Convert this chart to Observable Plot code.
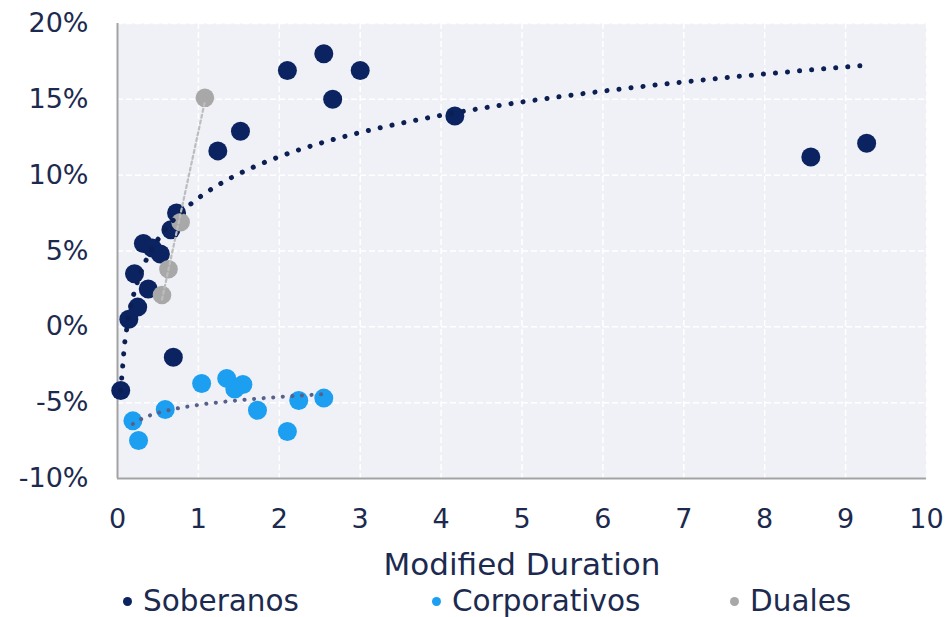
<!DOCTYPE html>
<html>
<head>
<meta charset="utf-8">
<script src="https://cdn.jsdelivr.net/npm/d3@7"></script>
<script src="https://cdn.jsdelivr.net/npm/@observablehq/plot@0.6"></script>
<style>
  body { margin: 0; background: #ffffff; font-family: "DejaVu Sans", sans-serif; color: #1c2a4f; }
  #legend { position: relative; width: 946px; height: 32px; font-size: 29.5px; }
  .item { position: absolute; top: 0; height: 32px; display: flex; align-items: center; gap: 11px; white-space: nowrap; }
  .sw { width: 9px; height: 9px; border-radius: 50%; }
</style>
</head>
<body>
<div id="chart"></div>
<div id="legend"></div>
<script>
// Modified duration (x) vs yield (y, %) by bond type
const soberanosX = [0.04, 0.14, 0.25, 0.21, 0.38, 0.32, 0.43, 0.53, 0.66, 0.73, 0.69, 1.24, 1.52, 2.10, 2.55, 2.66, 3.00, 4.17, 8.57, 9.26];
const soberanosY = [-4.2, 0.5, 1.3, 3.5, 2.5, 5.5, 5.2, 4.8, 6.4, 7.5, -2.0, 11.6, 12.9, 16.9, 18.0, 15.0, 16.9, 13.9, 11.2, 12.1];

const corporativosX = [0.19, 0.26, 0.59, 1.04, 1.35, 1.45, 1.55, 1.73, 2.10, 2.24, 2.55];
const corporativosY = [-6.2, -7.5, -5.45, -3.74, -3.4, -4.1, -3.8, -5.5, -6.9, -4.86, -4.7];

const dualesX = [0.55, 0.63, 0.78, 1.08];
const dualesY = [2.1, 3.8, 6.9, 15.1];

const seriesNames = ["Soberanos", "Corporativos", "Duales"];
const seriesColors = ["#0b2361", "#1c9ff0", "#a8a8a8"];

const xTicks = d3.range(0, 11);
const yTicks = [-10, -5, 0, 5, 10, 15, 20];

const toRows = (xs, ys, serie) => xs.map((x, i) => ({x, y: ys[i], serie}));
const soberanos = toRows(soberanosX, soberanosY, seriesNames[0]);
const corporativos = toRows(corporativosX, corporativosY, seriesNames[1]);
const duales = toRows(dualesX, dualesY, seriesNames[2]);

// Least-squares trend lines: logarithmic (y = a + b ln x) and linear
function fit(xs, ys, tx) {
  const t = xs.map(tx);
  const mt = d3.mean(t), my = d3.mean(ys);
  const b = d3.sum(t, (v, i) => (v - mt) * (ys[i] - my)) / d3.sum(t, v => (v - mt) ** 2);
  const a = my - b * mt;
  const [x0, x1] = d3.extent(xs);
  const n = 200;
  return d3.range(n + 1).map(i => {
    const x = x0 + (x1 - x0) * i / n;
    return {x, y: a + b * tx(x)};
  });
}
const trendSoberanos = fit(soberanosX, soberanosY, Math.log);
const trendCorporativos = fit(corporativosX, corporativosY, Math.log);
const trendDuales = fit(dualesX, dualesY, v => v);

const chart = Plot.plot({
  width: 946,
  height: 585,
  marginLeft: 117,
  marginRight: 20,
  marginTop: 23,
  marginBottom: 107,
  style: {fontFamily: "DejaVu Sans, sans-serif", fontSize: "27px", color: "#1c2a4f", background: "#ffffff"},
  x: {domain: [0, 10], ticks: xTicks},
  y: {domain: [-10, 20], ticks: yTicks},
  marks: [
    Plot.frame({fill: "#eff1f6", stroke: "none"}),
    Plot.gridX(xTicks.slice(1), {stroke: "#ffffff", strokeOpacity: 1, strokeWidth: 1.5, strokeDasharray: "6,3"}),
    Plot.gridY(yTicks.slice(1), {stroke: "#ffffff", strokeOpacity: 1, strokeWidth: 1.5, strokeDasharray: "6,3"}),
    Plot.ruleX([0], {stroke: "#a3a3a3", strokeWidth: 2}),
    Plot.ruleY([-10], {stroke: "#a3a3a3", strokeWidth: 2}),
    Plot.dot(soberanos, {x: "x", y: "y", r: 9.5, fill: seriesColors[0]}),
    Plot.dot(corporativos, {x: "x", y: "y", r: 9.5, fill: seriesColors[1]}),
    Plot.dot(duales, {x: "x", y: "y", r: 9.3, fill: seriesColors[2]}),
    Plot.line(trendSoberanos, {x: "x", y: "y", stroke: "#0b1f52", strokeWidth: 5, strokeDasharray: "0.1,12", strokeLinecap: "round"}),
    Plot.line(trendCorporativos, {x: "x", y: "y", stroke: "#56608a", strokeWidth: 4, strokeDasharray: "0.1,9.5", strokeLinecap: "round"}),
    Plot.line(trendDuales, {x: "x", y: "y", stroke: "#bdbdbd", strokeWidth: 2.2, strokeDasharray: "3,3"}),
    Plot.axisX({ticks: xTicks, tickSize: 0, tickPadding: 30, label: null, tickFormat: d => `${d}`}),
    Plot.axisY({ticks: yTicks, tickSize: 0, tickPadding: 29, label: null, tickFormat: d => `${d}%`}),
    Plot.text(["Modified Duration"], {frameAnchor: "bottom", dy: 87, lineAnchor: "middle", fontSize: 31, fill: "#1c2a4f", text: d => d})
  ]
});
document.getElementById("chart").append(chart);

// Legend below the chart
const legendPos = [123, 432, 730];
const legend = document.getElementById("legend");
seriesNames.forEach((name, i) => {
  const item = document.createElement("div");
  item.className = "item";
  item.style.left = legendPos[i] + "px";
  const sw = document.createElement("span");
  sw.className = "sw";
  sw.style.background = seriesColors[i];
  const label = document.createElement("span");
  label.textContent = name;
  item.append(sw, label);
  legend.append(item);
});
</script>
</body>
</html>
